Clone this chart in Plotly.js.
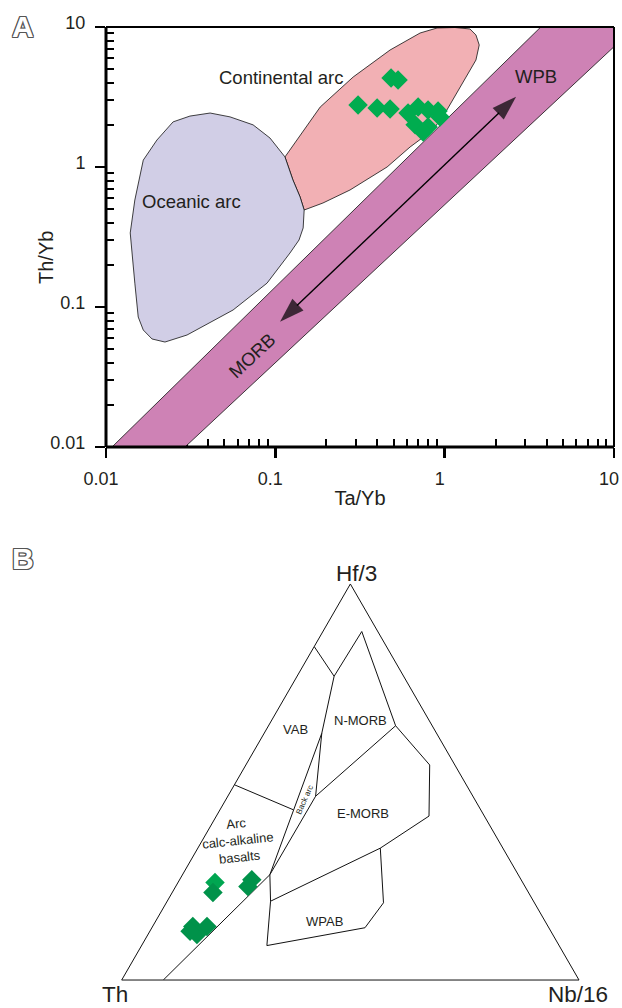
<!DOCTYPE html>
<html>
<head>
<meta charset="utf-8">
<script src="https://cdn.plot.ly/plotly-3.0.1.min.js"></script>
<style>
  html, body { margin: 0; padding: 0; background: #fff; }
  #chart { width: 622px; height: 1008px; }
</style>
</head>
<body>
<div id="chart"></div>
<script>
// ---------- Panel A: Th/Yb vs Ta/Yb (log-log) ----------
// MORB–WPB mantle array (band)
const mantleArrayTaYb = [0.01085, 3.695, 10, 10, 0.02929, 0.01085];
const mantleArrayThYb = [0.01, 10, 10, 7.23, 0.01, 0.01];

// Continental arc field
const contArcTaYb = [0.114, 0.184, 0.288, 0.476, 0.716, 0.902, 1.15, 1.41, 1.53, 1.60, 1.53, 1.28,
                     1.03, 0.854, 0.625, 0.457, 0.276, 0.191, 0.160, 0.148, 0.140, 0.127, 0.114];
const contArcThYb = [1.18, 2.68, 4.39, 6.85, 9.06, 9.84, 9.92, 9.68, 8.77, 7.44, 5.81, 3.98,
                     2.55, 1.84, 1.39, 1.00, 0.685, 0.553, 0.510, 0.493, 0.611, 0.808, 1.18];

// Oceanic arc field
const oceanArcTaYb = [0.0139, 0.0148, 0.0166, 0.0200, 0.0249, 0.0313, 0.0412, 0.0540, 0.0739,
                      0.0930, 0.114, 0.127, 0.140, 0.148, 0.146, 0.138, 0.122, 0.0893, 0.0563,
                      0.0301, 0.0223, 0.0187, 0.0166, 0.0155, 0.0148, 0.0142, 0.0139, 0.0139];
const oceanArcThYb = [0.338, 0.581, 1.12, 1.56, 2.10, 2.31, 2.43, 2.28, 2.00,
                      1.61, 1.18, 0.808, 0.611, 0.493, 0.367, 0.301, 0.243, 0.148, 0.0952,
                      0.0631, 0.0562, 0.0591, 0.0685, 0.0848, 0.148, 0.243, 0.301, 0.338];

// MORB -> WPB enrichment trend (arrow ends)
const trendMorbEnd = [0.1066, 0.0785];
const trendWpbEnd = [2.641, 3.178];

// Samples
const sampleTaYb = [0.4825, 0.5305, 0.308, 0.399, 0.476, 0.608, 0.697, 0.798, 0.914, 0.669, 0.798, 0.746, 0.939];
const sampleThYb = [4.32, 4.18, 2.77, 2.64, 2.60, 2.43, 2.68, 2.55, 2.51, 2.00, 1.93, 1.78, 2.28];

// Axis ticks
const logTickVals = [0.01, 0.1, 1, 10];
const logTickText = ['0.01', '0.1', '1', '10'];

// ---------- Panel B: Th – Hf/3 – Nb/16 ternary (values in %: [Hf/3, Th, Nb/16]) ----------
const outerFieldEdge = [[84.2, 15.8, 0], [76.7, 15.2, 8.1], [88.0, 3.5, 8.5], [64.2, 8.0, 27.8],
                        [54.3, 5.5, 40.2], [41.4, 12.1, 46.5], [33.3, 26.8, 39.9], [19.5, 33.0, 47.5],
                        [13.2, 40.2, 46.6], [8.7, 63.9, 27.4], [19.9, 57.5, 22.6], [26.6, 54.3, 19.1]];
const vabBackArcEdge = [[76.7, 15.2, 8.1], [62.3, 25.1, 12.6], [26.6, 54.3, 19.1]];
const backArcMorbEdge = [[62.3, 25.1, 12.6], [46.4, 34.4, 19.2], [26.6, 54.3, 19.1]];
const nmorbEmorbEdge = [[46.4, 34.4, 19.2], [64.2, 8.0, 27.8]];
const vabCalcAlkEdge = [[49.3, 50.7, 0], [43.0, 41.0, 16.0]];
const calcAlkLowerEdge = [[0, 90.9, 9.1], [26.6, 54.3, 19.1]];
const emorbWpabEdge = [[19.9, 57.5, 22.6], [33.3, 26.8, 39.9]];

const sampleHf3 = [24.6, 22.1, 25.3, 23.6, 13.5, 13.5, 11.5, 12.3];
const sampleTh = [67.3, 69.0, 58.9, 60.6, 77.7, 74.6, 77.8, 78.9];
const sampleNb16 = [8.1, 8.9, 15.8, 15.8, 8.8, 11.9, 10.7, 8.8];
const sampleTernColors = ['#00A651', '#00924A', '#00924A', '#00924A', '#00924A', '#00924A', '#00924A', '#00924A'];

// ---------- drawing ----------
const W = 622, H = 1008;
const px = v => v / W;
const py = v => 1 - v / H;
const FONT = 'Liberation Sans, Arial, Helvetica, sans-serif';
const INK = '#231F20';
const OUTLINE = '1px 0 #555, -1px 0 #555, 0 1px #555, 0 -1px #555, 1px 1px #555, -1px -1px #555, 1px -1px #555, -1px 1px #555';

const minorTicks = [];
[-2, -1, 0].forEach(k => { for (let d = 2; d <= 9; d++) minorTicks.push(d * Math.pow(10, k)); });

const fieldTrace = (x, y, fill) => ({
  type: 'scatter', mode: 'lines', x, y, fill: 'toself', fillcolor: fill,
  line: { color: '#111', width: 0.8 }, hoverinfo: 'skip', showlegend: false
});

// one half of the double-headed trend arrow, from the log-midpoint to an end
const trendMid = [Math.sqrt(trendMorbEnd[0] * trendWpbEnd[0]), Math.sqrt(trendMorbEnd[1] * trendWpbEnd[1])];
const arrowHalf = (end) => ({
  type: 'scatter', mode: 'lines+markers',
  x: [trendMid[0], end[0]], y: [trendMid[1], end[1]],
  line: { color: '#000', width: 1.4 },
  marker: { symbol: 'arrow', angleref: 'previous', size: [0, 26], color: '#000', line: { width: 0 } },
  hoverinfo: 'skip', showlegend: false, cliponaxis: false
});

const ternLine = (pts) => ({
  type: 'scatterternary', mode: 'lines', subplot: 'ternary',
  a: pts.map(p => p[0]), b: pts.map(p => p[1]), c: pts.map(p => p[2]),
  line: { color: '#111', width: 1 }, hoverinfo: 'skip', showlegend: false
});

const data = [
  fieldTrace(mantleArrayTaYb, mantleArrayThYb, '#CE82B5'),
  fieldTrace(contArcTaYb, contArcThYb, '#F2B0B4'),
  fieldTrace(oceanArcTaYb, oceanArcThYb, '#D1CEE6'),
  {
    type: 'scatter', mode: 'markers', x: sampleTaYb, y: sampleThYb,
    marker: { symbol: 'diamond', size: 15, color: '#00AC4F', line: { width: 0 } },
    showlegend: false, hoverinfo: 'x+y'
  },
  arrowHalf(trendWpbEnd),
  arrowHalf(trendMorbEnd),
  ternLine(outerFieldEdge),
  ternLine(vabBackArcEdge),
  ternLine(backArcMorbEdge),
  ternLine(nmorbEmorbEdge),
  ternLine(vabCalcAlkEdge),
  ternLine(calcAlkLowerEdge),
  ternLine(emorbWpabEdge),
  {
    type: 'scatterternary', mode: 'markers', subplot: 'ternary',
    a: sampleHf3, b: sampleTh, c: sampleNb16,
    marker: { symbol: 'diamond', size: 15, color: sampleTernColors, line: { width: 0 } },
    showlegend: false
  }
];

const txt = (text, x, y, size, extra) => Object.assign({
  text, x: px(x), y: py(y), xref: 'paper', yref: 'paper',
  xanchor: 'center', yanchor: 'middle', showarrow: false,
  font: { family: FONT, size, color: INK }
}, extra || {});

const panelLetter = (letter, x, y) => txt(letter, x, y, 30, {
  font: { family: FONT, size: 30, weight: 'bold', color: '#fff', shadow: OUTLINE }
});

const ternAxis = {
  showticklabels: false, ticks: '', showgrid: false,
  showline: true, linecolor: '#111', linewidth: 1, title: { text: '' }
};

const layout = {
  width: W, height: H,
  margin: { l: 0, r: 0, t: 0, b: 0 },
  paper_bgcolor: '#fff', plot_bgcolor: '#fff',
  showlegend: false,
  xaxis: {
    type: 'log', range: [-2, 1], domain: [px(106), px(614)], anchor: 'y',
    tickmode: 'array', tickvals: logTickVals, ticktext: logTickText,
    ticks: 'outside', ticklen: 10, tickwidth: 2.5, tickcolor: '#000',
    showline: false, showgrid: false, zeroline: false, layer: 'below traces',
    tickfont: { family: FONT, size: 18, color: INK },
    ticklabelshift: -5, ticklabelstandoff: 5,
    minor: { tickmode: 'array', tickvals: minorTicks, ticks: 'inside', ticklen: 8, tickwidth: 2, tickcolor: '#000', showgrid: false },
    title: { text: 'Ta/Yb', font: { family: FONT, size: 20, color: INK }, standoff: 3 },
    automargin: false, fixedrange: true
  },
  yaxis: {
    type: 'log', range: [-2, 1], domain: [py(447), py(27)], anchor: 'x',
    tickmode: 'array', tickvals: logTickVals, ticktext: logTickText,
    ticks: 'outside', ticklen: 10, tickwidth: 2.5, tickcolor: '#000',
    showline: false, showgrid: false, zeroline: false, layer: 'below traces',
    tickfont: { family: FONT, size: 18, color: INK },
    ticklabelshift: -4, ticklabelstandoff: 6,
    minor: { tickmode: 'array', tickvals: minorTicks, ticks: 'inside', ticklen: 8, tickwidth: 2, tickcolor: '#000', showgrid: false },
    automargin: false, fixedrange: true
  },
  ternary: {
    domain: { x: [px(121.7), px(579)], y: [py(980.7), py(583.3)] },
    sum: 100, bgcolor: '#fff',
    aaxis: ternAxis, baxis: ternAxis, caxis: ternAxis
  },
  shapes: [
    { type: 'line', xref: 'x domain', yref: 'y domain', x0: 0, x1: 1, y0: 0, y1: 0, line: { color: '#000', width: 3 } },
    { type: 'line', xref: 'x domain', yref: 'y domain', x0: 0, x1: 0, y0: 0, y1: 1, line: { color: '#000', width: 3 } },
    { type: 'line', xref: 'x domain', yref: 'y domain', x0: 0, x1: 1, y0: 1, y1: 1, line: { color: '#000', width: 2 } },
    { type: 'line', xref: 'x domain', yref: 'y domain', x0: 1, x1: 1, y0: 0, y1: 1, line: { color: '#000', width: 2 } }
  ],
  annotations: [
    // panel A
    panelLetter('A', 23, 26),
    txt('Th/Yb', 46, 258, 20, { textangle: -90 }),
    txt('Continental arc', 281, 78, 18.5),
    txt('Oceanic arc', 191, 202, 18.5),
    txt('WPB', 536, 77, 18.5),
    txt('MORB', 252, 355, 18.5, { textangle: -43 }),
    // panel B
    panelLetter('B', 22.5, 558.5),
    txt('Hf/3', 356, 573, 22.5),
    txt('Th', 115, 994, 22.5),
    txt('Nb/16', 578, 994, 22.5),
    txt('VAB', 295, 729, 13),
    txt('N-MORB', 360, 720, 13),
    txt('E-MORB', 363, 813, 13),
    txt('WPAB', 324, 921, 13),
    txt('Arc<br>calc-alkaline<br>basalts', 238, 840, 13, { textangle: -6 }),
    txt('Back arc', 304, 800, 8, { textangle: -66 })
  ]
};

Plotly.newPlot('chart', data, layout, { staticPlot: true, displayModeBar: false });
</script>
</body>
</html>
